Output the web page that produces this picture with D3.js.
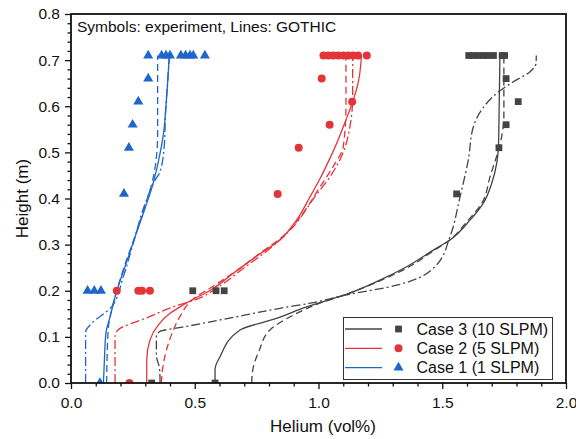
<!DOCTYPE html>
<html>
<head>
<meta charset="utf-8">
<script src="https://cdn.jsdelivr.net/npm/d3@7"></script>
<style>
  html, body { margin: 0; padding: 0; background: #fff; }
  svg { display: block; font-family: "Liberation Sans", Arial, sans-serif; }
</style>
</head>
<body>
<svg id="chart" width="576" height="439"></svg>
<script>
// ---- Axis ticks ----
const xMajorTicks = [0, 0.5, 1.0, 1.5, 2.0];
const yMajorTicks = [0, 0.1, 0.2, 0.3, 0.4, 0.5, 0.6, 0.7, 0.8];

// ---- Measured helium concentration [vol%, height m] ----
const case1Exp = [
  [0.117, 0], [0.067, 0.2], [0.094, 0.2], [0.121, 0.2],
  [0.214, 0.41], [0.234, 0.51], [0.249, 0.56], [0.272, 0.61], [0.312, 0.66],
  [0.312, 0.71], [0.366, 0.71], [0.384, 0.71], [0.400, 0.71], [0.444, 0.71],
  [0.463, 0.71], [0.481, 0.71], [0.494, 0.71], [0.541, 0.71]
];
const case2Exp = [
  [0.236, 0], [0.185, 0.2], [0.272, 0.2], [0.287, 0.2], [0.319, 0.2],
  [0.835, 0.41], [0.920, 0.51], [1.045, 0.56], [1.136, 0.61], [1.013, 0.66],
  [1.020, 0.71], [1.040, 0.71], [1.060, 0.71], [1.080, 0.71], [1.100, 0.71],
  [1.120, 0.71], [1.140, 0.71], [1.160, 0.71], [1.195, 0.71]
];
const case3Exp = [
  [0.326, 0], [0.582, 0], [0.492, 0.2], [0.586, 0.2], [0.619, 0.2],
  [1.558, 0.41], [1.729, 0.51], [1.758, 0.56], [1.807, 0.61], [1.758, 0.66],
  [1.607, 0.71], [1.627, 0.71], [1.647, 0.71], [1.667, 0.71], [1.687, 0.71],
  [1.707, 0.71], [1.742, 0.71], [1.752, 0.71]
];

// ---- GOTHIC profiles [vol%, height m] ----
const case1Solid = [
  [0.131, 0], [0.135, 0.05], [0.141, 0.108], [0.158, 0.144], [0.182, 0.194],
  [0.218, 0.252], [0.259, 0.317], [0.300, 0.380], [0.326, 0.422], [0.353, 0.480],
  [0.373, 0.538], [0.387, 0.624], [0.397, 0.710]
];
const case1Dash = [
  [0.144, 0], [0.146, 0.06], [0.151, 0.12], [0.165, 0.16], [0.185, 0.20],
  [0.220, 0.26], [0.260, 0.32], [0.300, 0.385], [0.330, 0.44], [0.346, 0.494],
  [0.350, 0.54], [0.350, 0.710]
];
const case1DashDot = [
  [0.059, 0], [0.059, 0.111], [0.077, 0.126], [0.164, 0.165], [0.211, 0.23],
  [0.250, 0.30], [0.300, 0.39], [0.340, 0.44], [0.360, 0.458], [0.378, 0.523],
  [0.382, 0.588], [0.390, 0.65], [0.398, 0.710]
];

const case2Solid = [
  [0.306, 0], [0.306, 0.05], [0.319, 0.093], [0.353, 0.126], [0.400, 0.151],
  [0.440, 0.165], [0.488, 0.180], [0.560, 0.200], [0.656, 0.238], [0.750, 0.275],
  [0.844, 0.310], [0.910, 0.352], [0.962, 0.400], [1.008, 0.445], [1.046, 0.487],
  [1.080, 0.528], [1.107, 0.565], [1.141, 0.614], [1.160, 0.650], [1.174, 0.710]
];
const case2Dash = [
  [0.365, 0], [0.370, 0.03], [0.385, 0.07], [0.410, 0.11], [0.440, 0.144],
  [0.500, 0.185], [0.560, 0.205], [0.660, 0.240], [0.760, 0.280], [0.860, 0.320],
  [0.940, 0.370], [1.000, 0.420], [1.060, 0.470], [1.100, 0.512], [1.111, 0.600],
  [1.111, 0.710]
];
const case2DashDot = [
  [0.178, 0], [0.178, 0.100], [0.190, 0.115], [0.300, 0.140], [0.440, 0.170],
  [0.500, 0.180], [0.600, 0.210], [0.700, 0.250], [0.800, 0.290], [0.900, 0.340],
  [0.980, 0.400], [1.050, 0.450], [1.100, 0.500], [1.127, 0.556], [1.138, 0.620],
  [1.138, 0.710]
];

const case3Solid = [
  [0.582, 0], [0.582, 0.03], [0.602, 0.057], [0.683, 0.115], [0.830, 0.140],
  [0.952, 0.165], [1.046, 0.181], [1.100, 0.190], [1.248, 0.223], [1.356, 0.252],
  [1.464, 0.288], [1.531, 0.310], [1.612, 0.353], [1.666, 0.390], [1.700, 0.433],
  [1.720, 0.476], [1.727, 0.512], [1.730, 0.600], [1.733, 0.710]
];
const case3Dash = [
  [0.730, 0], [0.735, 0.03], [0.760, 0.07], [0.804, 0.115], [0.912, 0.151],
  [1.000, 0.172], [1.100, 0.190], [1.250, 0.222], [1.360, 0.250], [1.460, 0.285],
  [1.530, 0.310], [1.600, 0.350], [1.660, 0.390], [1.693, 0.447], [1.740, 0.534],
  [1.749, 0.577], [1.749, 0.710]
];
const case3DashDot = [
  [0.360, 0], [0.358, 0.03], [0.345, 0.06], [0.345, 0.100], [0.360, 0.112],
  [0.450, 0.121], [0.700, 0.147], [0.844, 0.162], [0.966, 0.173], [1.114, 0.191],
  [1.316, 0.212], [1.477, 0.256], [1.531, 0.317], [1.572, 0.404], [1.605, 0.483],
  [1.626, 0.556], [1.659, 0.592], [1.720, 0.628], [1.787, 0.653], [1.855, 0.675],
  [1.879, 0.693], [1.880, 0.710]
];

const legendLabels = ["Case 3 (10 SLPM)", "Case 2 (5 SLPM)", "Case 1 (1 SLPM)"];

// ---- Layout ----
const colors = { c1: "#1f66cc", c2: "#e3343a", c3: "#444444" };
const plotLeft = 71, plotRight = 566, plotTop = 14, plotBottom = 383;

const svg = d3.select("#chart");
const x = d3.scaleLinear().domain([0, 2]).range([plotLeft, plotRight]);
const y = d3.scaleLinear().domain([0, 0.8]).range([plotBottom, plotTop]);

svg.append("defs").append("clipPath").attr("id", "plotClip")
  .append("rect").attr("x", plotLeft).attr("y", plotTop)
  .attr("width", plotRight - plotLeft).attr("height", plotBottom - plotTop);

// ---- Simulation lines ----
const line = d3.line().x(d => x(d[0])).y(d => y(d[1])).curve(d3.curveMonotoneY);
const dashStyles = { solid: null, dash: "7,4", dashdot: "9,3,2,3" };
const lineSets = [
  [case3Solid, colors.c3, "solid"], [case3Dash, colors.c3, "dash"], [case3DashDot, colors.c3, "dashdot"],
  [case2Solid, colors.c2, "solid"], [case2Dash, colors.c2, "dash"], [case2DashDot, colors.c2, "dashdot"],
  [case1Solid, colors.c1, "solid"], [case1Dash, colors.c1, "dash"], [case1DashDot, colors.c1, "dashdot"]
];
const linesG = svg.append("g").attr("clip-path", "url(#plotClip)");
lineSets.forEach(([data, col, style]) => {
  linesG.append("path").datum(data)
    .attr("d", line).attr("fill", "none")
    .attr("stroke", col).attr("stroke-width", 1.3)
    .attr("stroke-dasharray", dashStyles[style]);
});

// ---- Experimental markers ----
const markersG = svg.append("g").attr("clip-path", "url(#plotClip)");
function drawMarkers(data, symbolType, size, col) {
  markersG.selectAll(null).data(data).enter().append("path")
    .attr("transform", d => `translate(${x(d[0])},${y(d[1])})`)
    .attr("d", d3.symbol().type(symbolType).size(size))
    .attr("fill", col);
}
drawMarkers(case3Exp, d3.symbolSquare, 46, colors.c3);
drawMarkers(case2Exp, d3.symbolCircle, 50, colors.c2);
drawMarkers(case1Exp, d3.symbolTriangle, 44, colors.c1);

// ---- Axes ----
const axisColor = "#111";
const yMinor = d3.range(0, 0.8001, 0.02).filter(v => Math.abs(Math.round(v * 10) - v * 10) > 1e-6);
const xMinor = d3.range(0, 2.0001, 0.1).filter(v => Math.abs(Math.round(v * 2) - v * 2) > 1e-6);

const gx = svg.append("g").attr("transform", `translate(0,${plotBottom})`)
  .call(d3.axisBottom(x).tickValues(xMajorTicks).tickSize(6).tickPadding(8)
    .tickFormat(d3.format(".1f")));
const gxm = svg.append("g").attr("transform", `translate(0,${plotBottom})`)
  .call(d3.axisBottom(x).tickValues(xMinor).tickSize(3.5).tickFormat(""));
const gy = svg.append("g").attr("transform", `translate(${plotLeft},0)`)
  .call(d3.axisLeft(y).tickValues(yMajorTicks).tickSize(6).tickPadding(5)
    .tickFormat(d3.format(".1f")));
const gym = svg.append("g").attr("transform", `translate(${plotLeft},0)`)
  .call(d3.axisLeft(y).tickValues(yMinor).tickSize(3.5).tickFormat(""));

[gx, gxm, gy, gym].forEach(g => {
  g.select(".domain").remove();
  g.selectAll(".tick line").attr("stroke", axisColor).attr("stroke-width", 1.3);
  g.selectAll(".tick text").attr("fill", "#111").style("font-size", "15.5px")
    .style("font-family", "'Liberation Sans', Arial, sans-serif");
});

// Plot frame
svg.append("rect").attr("x", plotLeft).attr("y", plotTop)
  .attr("width", plotRight - plotLeft).attr("height", plotBottom - plotTop)
  .attr("fill", "none").attr("stroke", axisColor).attr("stroke-width", 1.8);

// ---- Titles ----
svg.append("text").attr("x", 323).attr("y", 432)
  .attr("text-anchor", "middle").style("font-size", "17px").attr("fill", "#111")
  .text("Helium (vol%)");
svg.append("text").attr("transform", `translate(28,${(plotTop + plotBottom) / 2}) rotate(-90)`)
  .attr("text-anchor", "middle").style("font-size", "17px").attr("fill", "#111")
  .text("Height (m)");
svg.append("text").attr("x", 77).attr("y", 32)
  .style("font-size", "15.5px").attr("fill", "#111")
  .text("Symbols: experiment, Lines: GOTHIC");

// ---- Legend ----
const legend = svg.append("g");
legend.append("rect").attr("x", 343.5).attr("y", 317.5).attr("width", 209).attr("height", 62)
  .attr("fill", "#fff").attr("stroke", "#333").attr("stroke-width", 1);
const legendItems = [
  [legendLabels[0], colors.c3, d3.symbolSquare, 46],
  [legendLabels[1], colors.c2, d3.symbolCircle, 50],
  [legendLabels[2], colors.c1, d3.symbolTriangle, 44]
];
legendItems.forEach(([label, col, sym, size], i) => {
  const cy = 329 + i * 19.3;
  legend.append("line").attr("x1", 345).attr("x2", 382).attr("y1", cy).attr("y2", cy)
    .attr("stroke", col).attr("stroke-width", 1.3);
  legend.append("path").attr("transform", `translate(398.5,${cy})`)
    .attr("d", d3.symbol().type(sym).size(size)).attr("fill", col);
  legend.append("text").attr("x", 416.5).attr("y", cy + 5.5)
    .style("font-size", "16px").attr("fill", "#111").text(label);
});
</script>
</body>
</html>
